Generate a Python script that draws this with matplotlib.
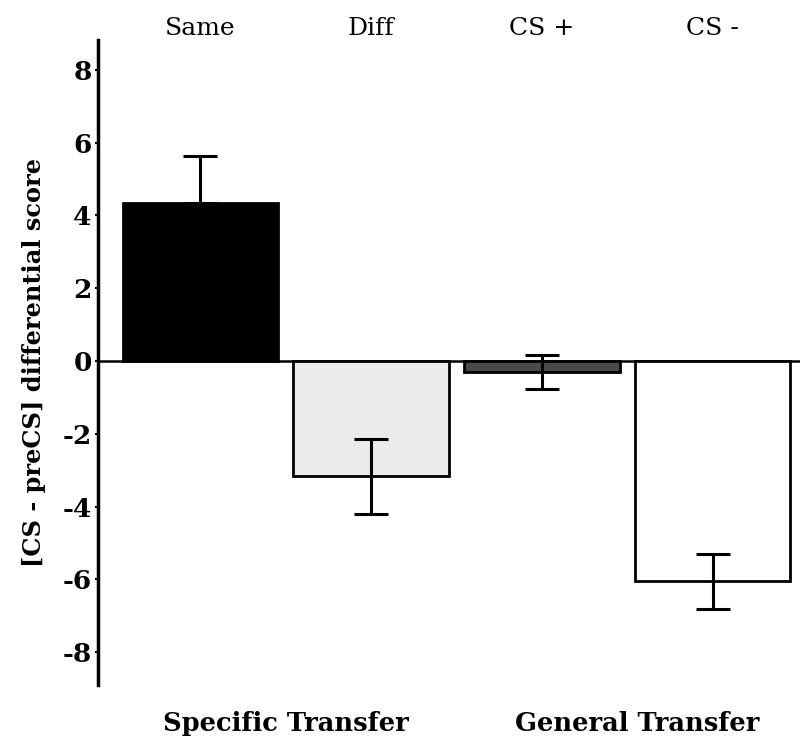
import matplotlib.pyplot as plt
import numpy as np

plt.rcParams['font.family'] = ['DejaVu Serif']

conditions = ["Same", "Diff", "CS +", "CS -"]
means = [4.35, -3.17, -0.30, -6.06]
err_low = [4.35, -4.20, -0.76, -6.82]
err_high = [5.62, -2.14, 0.17, -5.31]
fills = ["#000000", "#ebebeb", "#4a4a4a", "#ffffff"]
groups = ["Specific Transfer", "General Transfer"]
yticks = [-8, -6, -4, -2, 0, 2, 4, 6, 8]

fig = plt.figure(figsize=(8.03, 7.38), dpi=100)
ax = fig.add_axes([0.122, 0.072, 0.874, 0.874])

x = np.arange(len(conditions))
ax.bar(x, means, width=0.91, color=fills, edgecolor="black", linewidth=2.0, zorder=2)
lower = np.array(means) - np.array(err_low)
upper = np.array(err_high) - np.array(means)
ax.errorbar(x, means, yerr=[lower, upper], fmt="none", ecolor="black",
            elinewidth=2.2, capsize=12, capthick=2.2, zorder=3)
ax.axhline(0, color="black", linewidth=1.8, zorder=1)

ax.set_xlim(-0.6, 3.51)
ax.set_ylim(-8.9, 8.82)
ax.set_yticks(yticks)
ax.set_yticklabels([str(v) for v in yticks], fontsize=19, fontweight="bold")
ax.tick_params(axis="y", length=2.5, width=1.5, pad=2)
ax.set_xticks([])
for s in ["top", "right", "bottom"]:
    ax.spines[s].set_visible(False)
ax.spines["left"].set_linewidth(2.5)
ax.set_ylabel("[CS - preCS] differential score", fontsize=17.3, fontweight="bold", labelpad=12)

for xi, name in zip(x, conditions):
    ax.text(xi, 1.0, name, transform=ax.get_xaxis_transform(), ha="center",
            va="bottom", fontsize=18, clip_on=False)

ax.text(0.5, -0.04, groups[0], transform=ax.get_xaxis_transform(), ha="center",
        va="top", fontsize=18.5, fontweight="bold")
ax.text(2.56, -0.04, groups[1], transform=ax.get_xaxis_transform(), ha="center",
        va="top", fontsize=18.5, fontweight="bold")

fig.savefig("out.png", dpi=100)
